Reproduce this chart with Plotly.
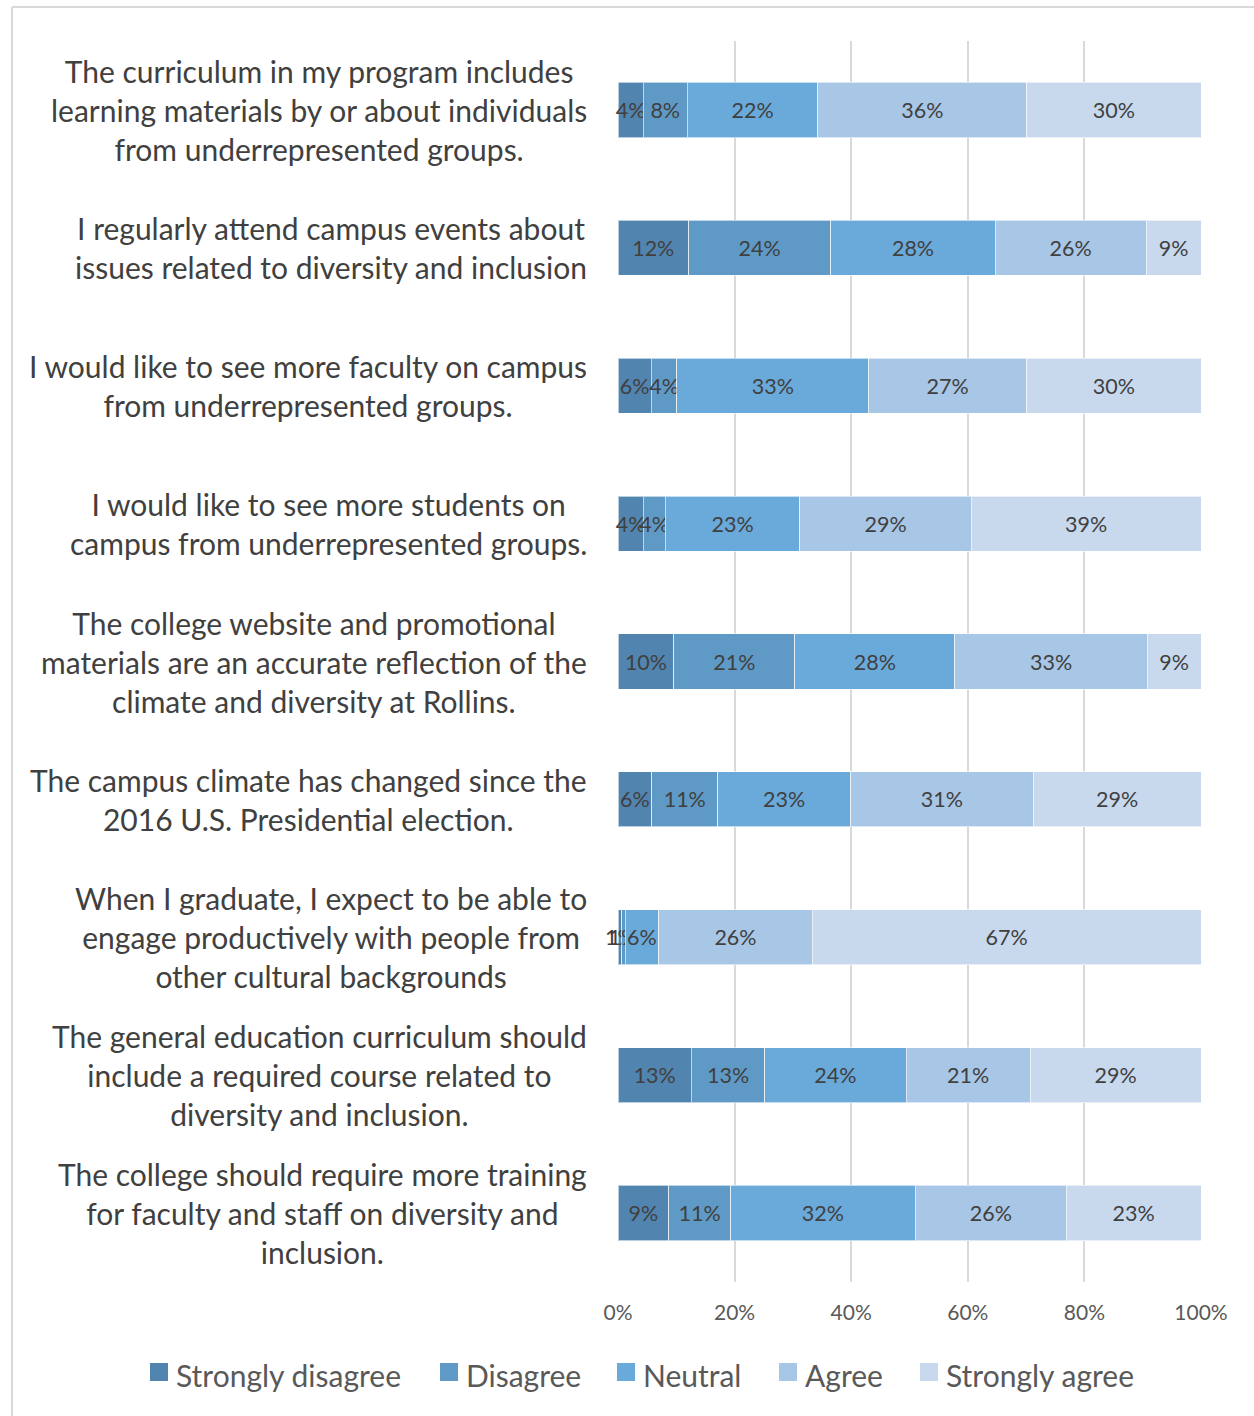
import plotly.graph_objects as go

# Survey statements (top to bottom)
statements = [
    "The curriculum in my program includes<br>learning materials by or about individuals<br>from underrepresented groups.",
    "I regularly attend campus events about<br>issues related to diversity and inclusion",
    "I would like to see more faculty on campus<br>from underrepresented groups.",
    "I would like to see more students on<br>campus from underrepresented groups.",
    "The college website and promotional<br>materials are an accurate reflection of the<br>climate and diversity at Rollins.",
    "The campus climate has changed since the<br>2016 U.S. Presidential election.",
    "When I graduate, I expect to be able to<br>engage productively with people from<br>other cultural backgrounds",
    "The general education curriculum should<br>include a required course related to<br>diversity and inclusion.",
    "The college should require more training<br>for faculty and staff on diversity and<br>inclusion.",
]

# Share of responses (%) per statement
strongly_disagree = [4.3, 12.1, 5.7, 4.3, 9.6, 5.8, 0.6, 12.6, 8.7]
disagree = [7.6, 24.4, 4.4, 3.8, 20.7, 11.3, 0.6, 12.6, 10.6]
neutral = [22.4, 28.2, 32.9, 23.1, 27.5, 22.8, 5.8, 24.2, 31.7]
agree = [35.8, 25.9, 27.1, 29.4, 33.0, 31.3, 26.3, 21.3, 25.9]
strongly_agree = [29.9, 9.4, 29.9, 39.4, 9.2, 28.8, 66.7, 29.3, 23.1]

series_names = ["Strongly disagree", "Disagree", "Neutral", "Agree", "Strongly agree"]
series_values = [strongly_disagree, disagree, neutral, agree, strongly_agree]
series_colors = ["#5185b0", "#5f9ac7", "#6aaadb", "#a8c6e5", "#c8d9ee"]

tick_values = [0, 20, 40, 60, 80, 100]
tick_labels = ["0%", "20%", "40%", "60%", "80%", "100%"]

FONT = "Lato"
TEXT_COLOR = "#404040"
AXIS_TEXT = "#595959"

W, H = 1254, 1416
L, R, T, B = 618, 53, 41, 134
plot_w = W - L - R
plot_h = H - T - B


def px_x(px):
    return (px - L) / plot_w


def px_y(py):
    return (H - B - py) / plot_h


fig = go.Figure()

for name, vals, color in zip(series_names, series_values, series_colors):
    fig.add_trace(go.Bar(
        name=name,
        y=statements,
        x=vals,
        orientation="h",
        marker=dict(color=color, line=dict(color="rgba(255,255,255,0.6)", width=1)),
        texttemplate="%{x:.0f}%",
        textposition="inside",
        insidetextanchor="middle",
        textangle=0,
        constraintext="none",
        cliponaxis=False,
        textfont=dict(family=FONT, size=21.5, color=TEXT_COLOR),
        showlegend=False,
        hoverinfo="skip",
    ))

# Statement labels, centered block right-aligned against the plot
annotations = []
for s in statements:
    annotations.append(dict(
        xref="paper", yref="y", x=px_x(589), y=s,
        text=s, showarrow=False, xanchor="right", yanchor="middle",
        align="center", font=dict(family=FONT, size=30, color=TEXT_COLOR),
    ))

shapes = [
    # chart frame
    dict(type="line", xref="paper", yref="paper",
         x0=px_x(12), x1=px_x(1260), y0=px_y(7), y1=px_y(7),
         line=dict(color="#d9d9d9", width=2)),
    dict(type="line", xref="paper", yref="paper",
         x0=px_x(12), x1=px_x(12), y0=px_y(7), y1=px_y(1420),
         line=dict(color="#d9d9d9", width=2)),
]

# Legend row below the axis: swatch + label per series
legend_left = [150, 440, 617, 779, 920]
legend_mid = 1372
swatch = 18
for name, color, x0 in zip(series_names, series_colors, legend_left):
    shapes.append(dict(
        type="rect", xref="paper", yref="paper",
        x0=px_x(x0), x1=px_x(x0 + swatch),
        y0=px_y(legend_mid + swatch / 2), y1=px_y(legend_mid - swatch / 2),
        fillcolor=color, line=dict(width=0),
    ))
    annotations.append(dict(
        xref="paper", yref="paper", x=px_x(x0 + swatch + 6), y=px_y(legend_mid + 3),
        text=name, showarrow=False, xanchor="left", yanchor="middle",
        font=dict(family=FONT, size=30, color=AXIS_TEXT),
    ))

fig.update_layout(
    width=W, height=H,
    margin=dict(l=L, r=R, t=T, b=B, autoexpand=False),
    barmode="stack",
    bargap=0.6,
    plot_bgcolor="white",
    paper_bgcolor="white",
    font=dict(family=FONT, color=AXIS_TEXT),
    uniformtext=dict(minsize=21.5, mode="show"),
    annotations=annotations,
    shapes=shapes,
    showlegend=False,
    xaxis=dict(
        range=[0, 100], tickvals=tick_values, ticktext=tick_labels,
        showgrid=True, gridcolor="#d9d9d9", gridwidth=2,
        zeroline=False, showline=False,
        tickfont=dict(family=FONT, size=21, color=AXIS_TEXT),
        ticks="", ticklen=0, ticklabelstandoff=16,
    ),
    yaxis=dict(
        categoryorder="array", categoryarray=statements,
        autorange="reversed", showticklabels=False,
        showgrid=False, zeroline=False, showline=False,
    ),
)

fig.write_html("out.html")
